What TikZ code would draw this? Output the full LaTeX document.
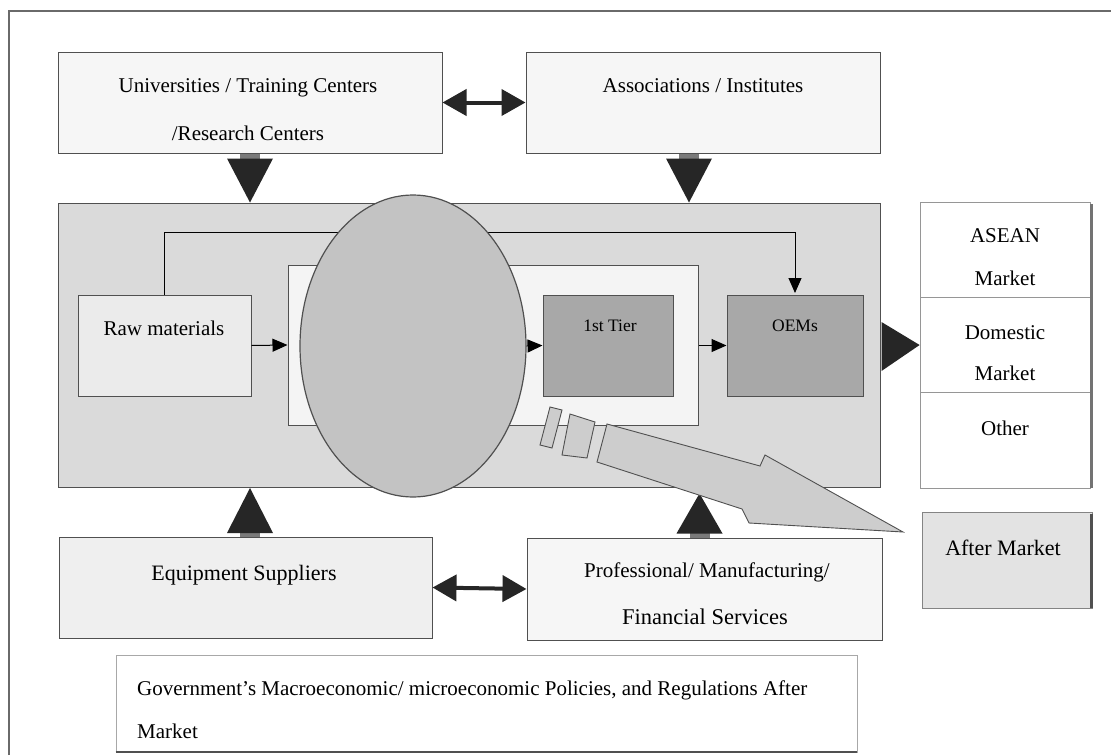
\documentclass[tikz,border=0pt]{standalone}
\usepackage{fontspec}
\setmainfont{Liberation Serif}
\usetikzlibrary{arrows.meta,shapes.geometric,calc}
\definecolor{linec}{HTML}{505050}
\definecolor{framec}{HTML}{6A6A6A}
\definecolor{topfill}{HTML}{F6F6F6}
\definecolor{bigfill}{HTML}{DADADA}
\definecolor{innerfill}{HTML}{F4F4F4}
\definecolor{rawfill}{HTML}{EBEBEB}
\definecolor{darkfill}{HTML}{A8A8A8}
\definecolor{hubfill}{HTML}{C3C3C3}
\definecolor{arrowfill}{HTML}{262626}
\definecolor{stemfill}{HTML}{7A7A7A}
\definecolor{blockfill}{HTML}{CDCDCD}
\definecolor{lowfill}{HTML}{EFEFEF}
\definecolor{afterfill}{HTML}{E3E3E3}
\begin{document}
\begin{tikzpicture}[x=1pt,y=-1pt,
  box/.style={draw=linec, line width=1pt, inner sep=0pt, rectangle},
  txt/.style={font=\fontsize{21}{21}\selectfont, anchor=base, inner sep=0pt},
  smalltxt/.style={font=\fontsize{17.5}{17.5}\selectfont, anchor=base, inner sep=0pt},
  thinarrow/.style={draw=black, line width=1pt, -{Triangle[length=15pt,width=13pt]}},
  dblarrow/.style={draw=arrowfill, line width=4pt, {Triangle[length=24pt,width=26pt]}-{Triangle[length=24pt,width=26pt]}},
  bigtri/.style={fill=arrowfill},
  stem/.style={fill=stemfill}]
\useasboundingbox (0,0) rectangle (1111,755);
\fill[white] (0,0) rectangle (1111,755);
% outer frame
\draw[framec, line width=1.2pt] (9,755) -- (9,11) -- (1111,11);

% top boxes
\node[box, fill=topfill, minimum width=384pt, minimum height=101pt] (univ) at (250,102.5) {};
\node[box, fill=topfill, minimum width=354pt, minimum height=101pt] (assoc) at (703,102.5) {};
\node[txt] (univt1) at (248,92) {Universities / Training Centers};
\node[txt] (univt2) at (248,140) {/Research Centers};
\node[txt] (assoct) at (703,92) {Associations / Institutes};
\draw[dblarrow] (univ.east) -- (assoc.west);

% central block
\node[box, fill=bigfill, minimum width=822pt, minimum height=284pt] (big) at (469,345) {};
\node[box, fill=rawfill, minimum width=173pt, minimum height=101pt] (raw) at (164.5,345.5) {};
\draw[thinarrow] (raw.north) -- ++(0,-62) -| (795,293);
\node[box, fill=innerfill, minimum width=410pt, minimum height=160pt] (inner) at (493,345) {};
\node[box, fill=darkfill, minimum width=130pt, minimum height=101pt] (tier) at (608,345.5) {};
\node[box, fill=darkfill, minimum width=136pt, minimum height=101pt] (oem) at (795,345.5) {};
\node[txt] (rawt) at (164,335) {Raw materials};
\node[smalltxt] (tiert) at (610,331) {1st Tier};
\node[smalltxt] (oemt) at (795,331) {OEMs};
\draw[thinarrow] (raw.east) -- (inner.west);
\draw[thinarrow] (inner.east |- oem.west) -- (oem.west);
\node[ellipse, draw=linec, line width=1.2pt, fill=hubfill, inner sep=0pt,
      minimum width=226pt, minimum height=302pt] (hub) at (413,346) {};
\draw[thinarrow] (hub.east) -- (tier.west);

% markets column
\node[draw=linec!60, line width=0.8pt, fill=white, inner sep=0pt, minimum width=170pt, minimum height=286pt] (mkt) at (1005,345) {};
\draw[linec!60, line width=0.8pt] (920,297) -- (1090,297);
\draw[linec!60, line width=0.8pt] (920,392) -- (1090,392);
\draw[linec!80, line width=2.5pt] (1091.5,204) -- (1091.5,488);
\node[txt] (asean) at (1005,242) {ASEAN};
\node[txt] (mkt1) at (1005,285) {Market};
\node[txt] (dom) at (1005,339) {Domestic};
\node[txt] (mkt2) at (1005,380) {Market};
\node[txt] (other) at (1005,435) {Other};
\fill[bigtri] ($(big.east)+(1,-23)$) -- (mkt.west) -- ($(big.east)+(1,26)$) -- cycle;

% after market
\node[box, draw=linec!70, fill=afterfill, minimum width=170pt, minimum height=96pt] (after) at (1007,560) {};
\draw[linec, line width=3pt] (1091,514) -- (1091,608);
\node[txt, font=\fontsize{22}{22}\selectfont] (aftert) at (1003,555) {After Market};

% arrows into central block
\coordinate (da1) at (univ.south);
\coordinate (da2) at ($(assoc.south)+(-14,0)$);
\foreach \c in {da1,da2}{
  \fill[stem] (\c) ++(-10,0) rectangle ++(20,6);
  \fill[bigtri] (\c) ++(-23,5) -- ++(46,0) -- ++(-23,44) -- cycle;
}

% bottom boxes
\node[box, fill=lowfill, minimum width=373pt, minimum height=101pt] (equip) at (245.5,587.5) {};
\node[box, fill=topfill, minimum width=355pt, minimum height=102pt] (prof) at (704.5,589) {};
\node[txt, font=\fontsize{22}{22}\selectfont] (equipt) at (244,580) {Equipment Suppliers};
\node[txt] (proft1) at (707,577) {Professional/ Manufacturing/};
\node[txt, font=\fontsize{22.5}{22.5}\selectfont] (proft2) at (705,624) {Financial Services};
\draw[dblarrow] (equip.east) -- (prof.west);
\coordinate (ua1) at (250,537);
\coordinate (ua2) at ($(prof.north)+(-5,0)$);
\fill[stem] (ua1) ++(-10,0) rectangle ++(20,-6);
\fill[bigtri] (ua1) ++(-23,-4) -- ++(46,0) -- ++(-23,-45) -- cycle;
\fill[stem] (ua2) ++(-10,0) rectangle ++(20,-6);
\fill[bigtri] (ua2) ++(-23,-4) -- ++(46,0) -- ++(-23,-40) -- cycle;

% striped block arrow
\filldraw[draw=linec, line width=0.9pt, fill=blockfill]
  (550,407) -- (562,410) -- (552,448) -- (540,445) -- cycle;
\filldraw[draw=linec, line width=0.9pt, fill=blockfill]
  (570,414) -- (595,422) -- (587,458) -- (562,455) -- cycle;
\filldraw[draw=linec, line width=0.9pt, fill=blockfill]
  (607,424) -- (760,466) -- (765,455) -- (903,532) -- (749,523) -- (742,509) -- (597,462) -- cycle;

% government box
\node[draw=linec!50, line width=0.8pt, fill=white, inner sep=0pt, minimum width=741pt, minimum height=97pt] (gov) at (486.5,703.5) {};
\draw[linec, line width=2pt] (gov.south west) -- (gov.south east);
\node[txt, anchor=base west] (govt1) at (137,695) {Government’s Macroeconomic/ microeconomic Policies, and Regulations After};
\node[txt, anchor=base west] (govt2) at (137,738) {Market};
\end{tikzpicture}
\end{document}
